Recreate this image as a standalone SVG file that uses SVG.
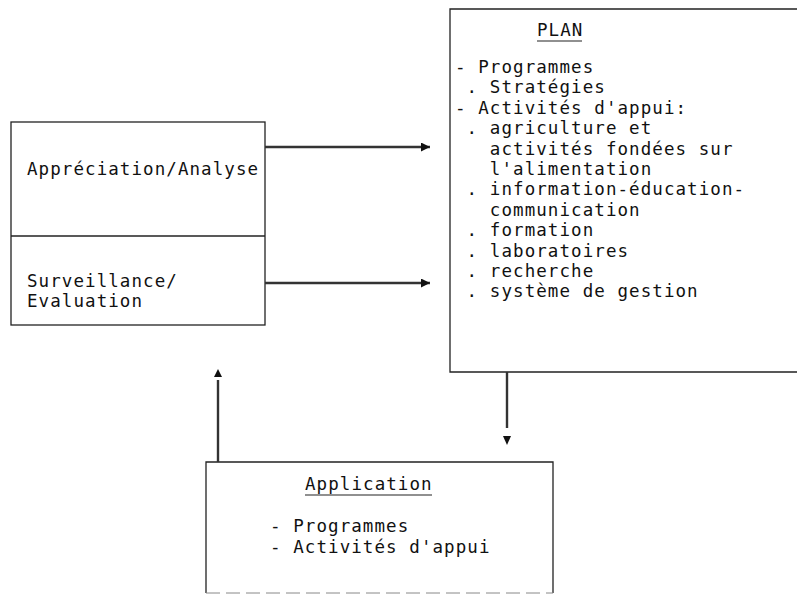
<svg xmlns="http://www.w3.org/2000/svg" width="797" height="596" viewBox="0 0 797 596">
<style>
.box{fill:none;stroke:#222;stroke-width:1.3}
.t{font-family:"DejaVu Sans Mono","Liberation Mono",monospace;font-size:17.5px;letter-spacing:1.07px;fill:#111;white-space:pre}
.ul{stroke:#222;stroke-width:1.2}
.conn{stroke:#333;stroke-width:2.4;fill:none}
</style>
<defs>
<marker id="ah" viewBox="0 0 10 10" refX="10" refY="5" markerWidth="9" markerHeight="9" markerUnits="userSpaceOnUse" orient="auto">
<path d="M0,0 L10,5 L0,10 z" fill="#111"/>
</marker>
</defs>
<rect width="797" height="596" fill="#fff"/>
<g id="evaluation">
<rect class="box" x="11" y="122" width="254" height="203"/>
<line class="box" x1="11" y1="236" x2="265" y2="236"/>
<text class="t" x="27" y="175">Appréciation/Analyse</text>
<text class="t" x="27" y="287">Surveillance/</text>
<text class="t" x="27" y="307">Evaluation</text>
</g>
<g id="plan" xml:space="preserve">
<path class="box" d="M800,9 H450 V372 H800"/>
<text class="t" x="537" y="36">PLAN</text>
<line class="ul" x1="537" y1="41" x2="582" y2="41"/>
<text class="t" x="455" y="73">- Programmes</text>
<text class="t" x="455" y="93.4"> . Stratégies</text>
<text class="t" x="455" y="113.8">- Activités d'appui:</text>
<text class="t" x="455" y="134.2"> . agriculture et</text>
<text class="t" x="455" y="154.6">   activités fondées sur</text>
<text class="t" x="455" y="175">   l'alimentation</text>
<text class="t" x="455" y="195.4"> . information-éducation-</text>
<text class="t" x="455" y="215.8">   communication</text>
<text class="t" x="455" y="236.2"> . formation</text>
<text class="t" x="455" y="256.6"> . laboratoires</text>
<text class="t" x="455" y="277"> . recherche</text>
<text class="t" x="455" y="297.4"> . système de gestion</text>
</g>
<g id="application">
<path class="box" d="M206,593 V462 H553 V593"/>
<line x1="206" y1="593" x2="553" y2="593" stroke="#888" stroke-width="1" stroke-dasharray="14 6"/>
<text class="t" x="305" y="490">Application</text>
<line class="ul" x1="305" y1="495" x2="432" y2="495"/>
<text class="t" x="270" y="532">- Programmes</text>
<text class="t" x="270" y="553">- Activités d'appui</text>
</g>
<g id="connectors">
<line class="conn" x1="265" y1="147" x2="430" y2="147" marker-end="url(#ah)"/>
<line class="conn" x1="265" y1="283" x2="430" y2="283" marker-end="url(#ah)"/>
<line class="conn" x1="507" y1="372" x2="507" y2="428"/>
<path d="M503,436 L511,436 L507,445 z" fill="#111"/>
<line class="conn" x1="218" y1="462" x2="218" y2="380"/>
<path d="M214,377 L222,377 L218,369 z" fill="#111"/>
</g>
</svg>
